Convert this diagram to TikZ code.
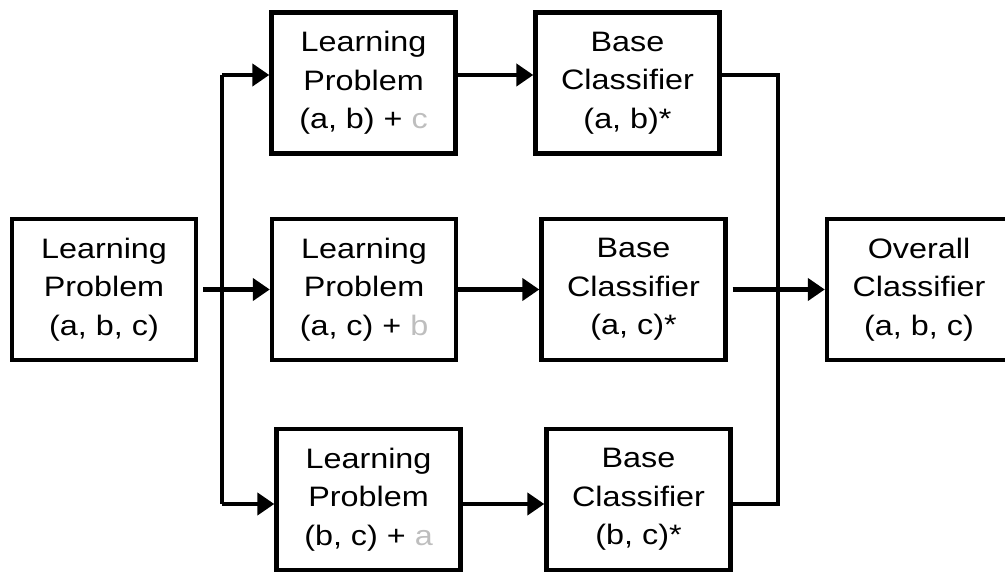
\documentclass[tikz,border=0pt]{standalone}
\usepackage{fontspec}
\setmainfont[FakeStretch=1.15]{Liberation Sans}
\usetikzlibrary{arrows.meta}
\definecolor{fadegray}{RGB}{190,190,190}
\tikzset{
  box/.style={draw,line width=2.5pt,minimum width=3.68cm,minimum height=2.82cm,
    inner sep=0pt,align=center,font=\fontsize{16}{22}\selectfont},
  wire/.style={line width=2.5pt},
  flow/.style={wire,-{Triangle[length=0.34cm,width=0.44cm]}}
}
\begin{document}
\begin{tikzpicture}
\useasboundingbox (0,0) rectangle (20.1,11.44);
\node[box] (LP) at (2.08,5.65) {Learning\\Problem\\(a, b, c)};
\node[box] (LPab) at (7.27,9.78) {Learning\\Problem\\(a, b) + {\color{fadegray}c}};
\node[box] (LPac) at (7.28,5.65) {Learning\\Problem\\(a, c) + {\color{fadegray}b}};
\node[box] (LPbc) at (7.37,1.45) {Learning\\Problem\\(b, c) + {\color{fadegray}a}};
\node[box] (BCab) at (12.55,9.78) {Base\\Classifier\\(a, b)*};
\node[box] (BCac) at (12.67,5.65) {Base\\Classifier\\(a, c)*};
\node[box] (BCbc) at (12.77,1.45) {Base\\Classifier\\(b, c)*};
\node[box] (OC) at (18.38,5.65) {Overall\\Classifier\\(a, b, c)};
\coordinate (forkt) at (4.44,9.94);
\coordinate (forkb) at (4.44,1.36);
\coordinate (join) at (15.56,0);
% split
\draw[wire] (forkt) -- (forkb);
\draw[flow] (forkt) -- (forkt -| LPab.west);
\draw[flow,shorten <=0.1cm] (LP.east) -- (LPac.west);
\draw[flow] (forkb) -- (forkb -| LPbc.west);
% base classifiers
\draw[flow] (LPab.east |- forkt) -- (BCab.west |- forkt);
\draw[flow] (LPac.east) -- (BCac.west);
\draw[flow] (LPbc.east |- forkb) -- (BCbc.west |- forkb);
% combine
\draw[wire] (BCab.east |- forkt) -| (join |- forkb) -- (BCbc.east |- forkb);
\draw[flow,shorten <=0.1cm] (BCac.east) -- (OC.west);
\end{tikzpicture}
\end{document}
